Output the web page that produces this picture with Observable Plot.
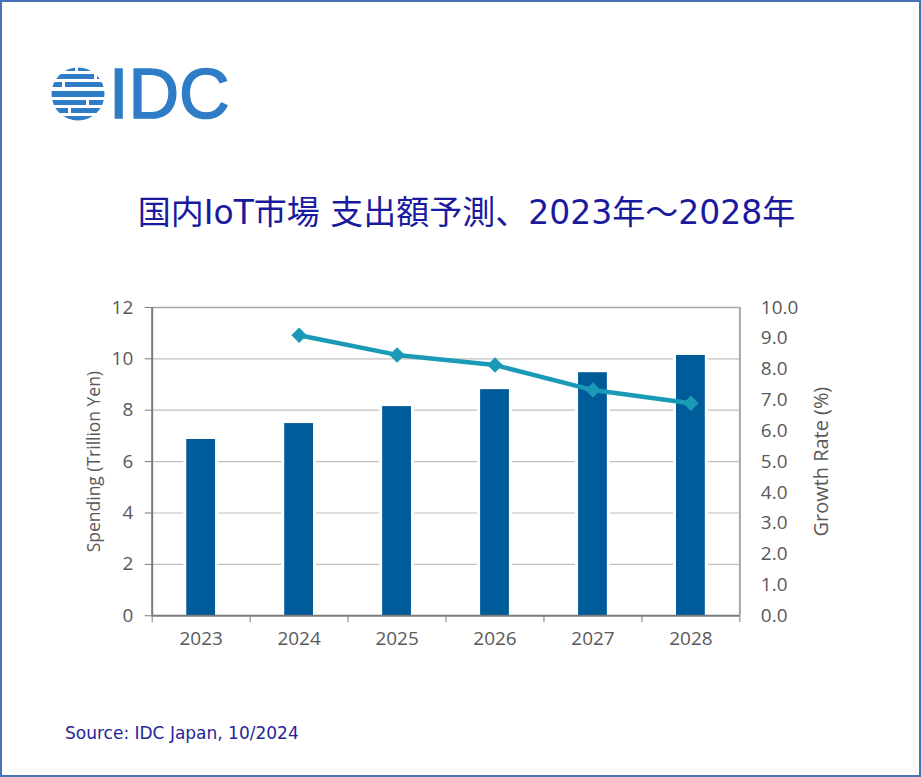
<!DOCTYPE html>
<html>
<head>
<meta charset="utf-8">
<script src="https://cdn.jsdelivr.net/npm/d3@7"></script>
<script src="https://cdn.jsdelivr.net/npm/@observablehq/plot@0.6"></script>
<style>
  html, body { margin: 0; padding: 0; background: #fff; }
  #page { position: relative; width: 917px; height: 773px; border: 2px solid #4a72b8; overflow: hidden; background: #fff; }
  #logo { position: absolute; left: 0; top: 0; }
  #title { position: absolute; left: 6px; top: 192px; width: 917px; text-align: center; font-family: "DejaVu Sans", "Noto Sans CJK JP", sans-serif; font-size: 33px; line-height: 38px; color: #1a1a9e; white-space: nowrap; }
  #chart { position: absolute; left: -2px; top: 278px; }
  #source { position: absolute; left: 63px; top: 720px; font-family: "DejaVu Sans", sans-serif; font-size: 17px; line-height: 22px; color: #26269a; }
</style>
</head>
<body>
<div id="page">
  <svg id="logo" width="260" height="140" viewBox="0 0 260 140">
    <defs>
      <clipPath id="globe"><circle cx="76" cy="92" r="26.5"></circle></clipPath>
    </defs>
    <g clip-path="url(#globe)" fill="#2f7dc6">
      <rect x="40" y="64" width="33" height="5"></rect><rect x="76" y="64" width="40" height="5"></rect>
      <rect x="40" y="72" width="52" height="5"></rect><rect x="95" y="72" width="20" height="5"></rect>
      <rect x="40" y="80" width="20" height="5"></rect><rect x="63" y="80" width="52" height="5"></rect>
      <rect x="40" y="89" width="70" height="6"></rect>
      <rect x="40" y="98" width="44" height="5"></rect><rect x="87" y="98" width="30" height="5"></rect>
      <rect x="40" y="106" width="26" height="5"></rect><rect x="69" y="106" width="48" height="5"></rect>
      <rect x="40" y="114" width="60" height="5"></rect>
    </g>
    <text x="107" y="116" font-family="Liberation Sans, Arial, sans-serif" font-size="70" fill="#2f7dc6" stroke="#2f7dc6" stroke-width="1.6">IDC</text>
  </svg>
  <div id="title">国内IoT市場 支出額予測、2023年～2028年</div>
  <div id="chart"></div>
  <div id="source">Source: IDC Japan, 10/2024</div>
</div>
<script>
// ---- data ----
const years = [2023, 2024, 2025, 2026, 2027, 2028];
const spending = [6.86, 7.48, 8.14, 8.80, 9.46, 10.13];           // trillion yen
const growthYears = [2024, 2025, 2026, 2027, 2028];
const growth = [9.1, 8.46, 8.13, 7.32, 6.89];                       // %
const leftTicks = [0, 2, 4, 6, 8, 10, 12];
const rightTicks = [0, 1, 2, 3, 4, 5, 6, 7, 8, 9, 10];
const leftLabel = "Spending (Trillion Yen)";
const rightLabel = "Growth Rate (%)";

// right axis (0–10 %) shares the frame with the left axis (0–12)
const ratio = 12 / 10;

const barData = years.map((year, i) => ({year, value: spending[i]}));
const lineData = growthYears.map((year, i) => ({year, value: growth[i]}));
const boundaries = [years[0] - 0.5, ...years.map(y => y + 0.5)];
const halfBar = 0.147;

const gridColor = "#c0c0c0";
const frameColor = "#a6a6a6";
const axisColor = "#7a7a7a";
const textColor = "#595959";
const barColor = "#005b9b";
const lineColor = "#1a9ab6";

const chart = Plot.plot({
  width: 921,
  height: 400,
  marginTop: 27,
  marginBottom: 64,
  marginLeft: 152,
  marginRight: 180,
  style: {fontFamily: "'Open Sans', sans-serif", fontSize: "19px", background: "transparent"},
  x: {type: "linear", domain: [boundaries[0], boundaries[boundaries.length - 1]], axis: null},
  y: {domain: [0, 12], axis: null},
  marks: [
    Plot.ruleY(leftTicks.filter(d => d > 0 && d < 12), {stroke: gridColor, strokeWidth: 1.2}),
    Plot.ruleY([12], {stroke: frameColor, strokeWidth: 1.5}),
    Plot.ruleX([boundaries[boundaries.length - 1]], {stroke: frameColor, strokeWidth: 2}),
    Plot.rectY(barData, {
      x1: d => d.year - halfBar, x2: d => d.year + halfBar, y: "value",
      fill: barColor, stroke: "white", strokeWidth: 6, paintOrder: "stroke"
    }),
    Plot.line(lineData, {x: "year", y: d => d.value * ratio, stroke: lineColor, strokeWidth: 4.5}),
    Plot.dot(lineData, {x: "year", y: d => d.value * ratio, symbol: "diamond2", r: 7, fill: lineColor}),
    // left axis
    Plot.ruleX([boundaries[0]], {stroke: axisColor, strokeWidth: 2}),
    Plot.axisY(leftTicks, {anchor: "left", tickSize: 7, tickPadding: 12, color: textColor, stroke: axisColor, label: null, fontSize: 19}),
    Plot.text([leftLabel], {frameAnchor: "left", textAnchor: "middle", rotate: -90, dx: -58, fill: textColor, fontSize: 17.5}),
    // right axis
    Plot.axisY(rightTicks.map(d => d * ratio), {
      anchor: "right", tickSize: 0, tickPadding: 21, color: textColor, label: null, fontSize: 19,
      tickFormat: d => (d / ratio).toFixed(1)
    }),
    Plot.text([rightLabel], {frameAnchor: "right", textAnchor: "middle", rotate: -90, dx: 82, fill: textColor, fontSize: 20}),
    // bottom axis
    Plot.ruleY([0], {stroke: axisColor, strokeWidth: 2}),
    Plot.axisX(boundaries, {anchor: "bottom", tickSize: 7, tickFormat: () => "", color: axisColor, label: null}),
    Plot.axisX(years, {anchor: "bottom", tickSize: 0, tickPadding: 16, tickFormat: d => String(d), color: textColor, label: null, fontSize: 19})
  ]
});
document.getElementById("chart").appendChild(chart);
</script>
</body>
</html>
